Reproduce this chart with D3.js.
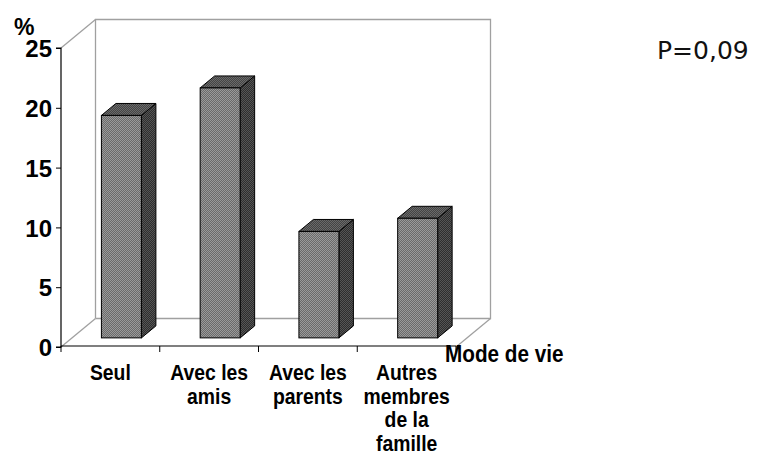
<!DOCTYPE html>
<html>
<head>
<meta charset="utf-8">
<script src="https://cdn.jsdelivr.net/npm/d3@7/dist/d3.min.js"></script>
<style>
  html, body { margin: 0; padding: 0; background: #fff; }
  svg { display: block; }
</style>
</head>
<body>
<svg id="chart" width="757" height="462"></svg>
<script>
// Mode de vie categories and their percentages
const categories = ["Seul", "Avec les amis", "Avec les parents", "Autres membres de la famille"];
const categoryLines = [["Seul"], ["Avec les", "amis"], ["Avec les", "parents"], ["Autres", "membres", "de la", "famille"]];
const values = [18.6, 20.9, 8.9, 10.0];
const yTicks = [0, 5, 10, 15, 20, 25];
const yTitle = "%";
const xTitle = "Mode de vie";
const note = "P=0,09";

const SANS = "'Liberation Sans', Arial, sans-serif";
const svg = d3.select("#chart");

// Front plane geometry and 3D depth offset
const x0 = 61, x1 = 456, yTop = 48, yBot = 347;
const depthX = 34.5, depthY = -28.5;

const x = d3.scaleBand().domain(categories).range([x0, x1]).paddingInner(0).paddingOuter(0);
const y = d3.scaleLinear().domain([0, 25]).range([yBot, yTop]);

// Shaded textures for the bar faces
const defs = svg.append("defs");
function checker(id, a, b) {
  const p = defs.append("pattern").attr("id", id)
    .attr("width", 2).attr("height", 2).attr("patternUnits", "userSpaceOnUse");
  p.append("rect").attr("width", 2).attr("height", 2).attr("fill", a);
  p.append("rect").attr("x", 0).attr("y", 0).attr("width", 1).attr("height", 1).attr("fill", b);
  p.append("rect").attr("x", 1).attr("y", 1).attr("width", 1).attr("height", 1).attr("fill", b);
}
checker("front", "#6a6a6a", "#9a9a9a");
checker("side", "#2e2e2e", "#555555");
checker("top", "#444444", "#6a6a6a");

// Walls and floor of the 3D box
const wall = svg.append("g").attr("fill", "none").attr("stroke", "#a0a0a0").attr("stroke-width", 1.3);
const bx0 = x0 + depthX, bx1 = x1 + depthX, byTop = yTop + depthY, byBot = yBot + depthY;
wall.append("path").attr("d", `M${bx0},${byBot} L${bx0},${byTop} L${bx1},${byTop} L${bx1},${byBot} L${bx0},${byBot}`);
wall.append("line").attr("x1", x0).attr("y1", y(25)).attr("x2", bx0).attr("y2", byTop);
wall.append("line").attr("x1", x0).attr("y1", yBot).attr("x2", bx0).attr("y2", byBot);
wall.append("line").attr("x1", x1).attr("y1", yBot).attr("x2", bx1).attr("y2", byBot);

// Bars: front face sits partway into the depth
const fFront = 0.32, fBack = 0.74;
const barW = 40;
const bars = svg.append("g").attr("stroke", "#000").attr("stroke-width", 1).attr("stroke-linejoin", "miter");
categories.forEach((c, i) => {
  const cx = x(c) + x.bandwidth() / 2 + fFront * depthX;
  const sy = fFront * depthY;
  const bl = cx - barW / 2, br = cx + barW / 2;
  const top = y(values[i]) + sy, bot = y(0) + sy;
  const ddx = (fBack - fFront) * depthX, ddy = (fBack - fFront) * depthY;
  bars.append("path").attr("fill", "url(#side)")
    .attr("d", `M${br},${bot} L${br},${top} L${br + ddx},${top + ddy} L${br + ddx},${bot + ddy} Z`);
  bars.append("path").attr("fill", "url(#top)")
    .attr("d", `M${bl},${top} L${br},${top} L${br + ddx},${top + ddy} L${bl + ddx},${top + ddy} Z`);
  bars.append("rect").attr("fill", "url(#front)")
    .attr("x", bl).attr("y", top).attr("width", barW).attr("height", bot - top);
});

// Y axis
const yAxis = svg.append("g").attr("transform", `translate(${x0},0)`)
  .call(d3.axisLeft(y).tickValues(yTicks).tickSize(5).tickPadding(4).tickFormat(d3.format("d")));
yAxis.select(".domain").attr("stroke", "#000").attr("stroke-width", 1.2).attr("d", `M-5,${yTop}H0V${yBot}H-5`);
yAxis.selectAll(".tick line").attr("stroke", "#000");
yAxis.selectAll(".tick text").style("font-size", "24px").style("font-weight", "bold")
  .style("font-family", SANS).attr("fill", "#000").attr("dy", "0.36em");

// X axis with category ticks at band boundaries
const xAxis = svg.append("g").attr("transform", `translate(0,${yBot - 1})`);
xAxis.append("line").attr("x1", x0).attr("x2", x1).attr("stroke", "#000").attr("stroke-width", 1.2);
categories.concat([null]).forEach(c => {
  const xp = c === null ? x1 : x(c);
  xAxis.append("line").attr("x1", xp).attr("x2", xp).attr("y1", 0).attr("y2", 6).attr("stroke", "#000");
});
categories.forEach((c, i) => {
  const t = xAxis.append("g")
    .attr("transform", `translate(${x(c) + x.bandwidth() / 2},0) scale(0.88,1)`)
    .append("text").attr("text-anchor", "middle")
    .style("font-size", "22px").style("font-weight", "bold").style("font-family", SANS)
    .attr("fill", "#000");
  categoryLines[i].forEach((ln, j) => {
    t.append("tspan").attr("x", 0).attr("y", 34 + j * 23.7).text(ln);
  });
});

// Titles and annotation
svg.append("text").attr("x", 14).attr("y", 35)
  .style("font-size", "23px").style("font-weight", "bold").style("font-family", SANS).text(yTitle);
svg.append("g").attr("transform", "translate(445,362) scale(0.9,1)")
  .append("text").attr("x", 0).attr("y", 0)
  .style("font-size", "23px").style("font-weight", "bold").style("font-family", SANS).text(xTitle);
svg.append("text").attr("x", 657).attr("y", 59)
  .style("font-size", "25px").style("font-family", "'DejaVu Sans', sans-serif")
  .attr("fill", "#111").text(note);
</script>
</body>
</html>
